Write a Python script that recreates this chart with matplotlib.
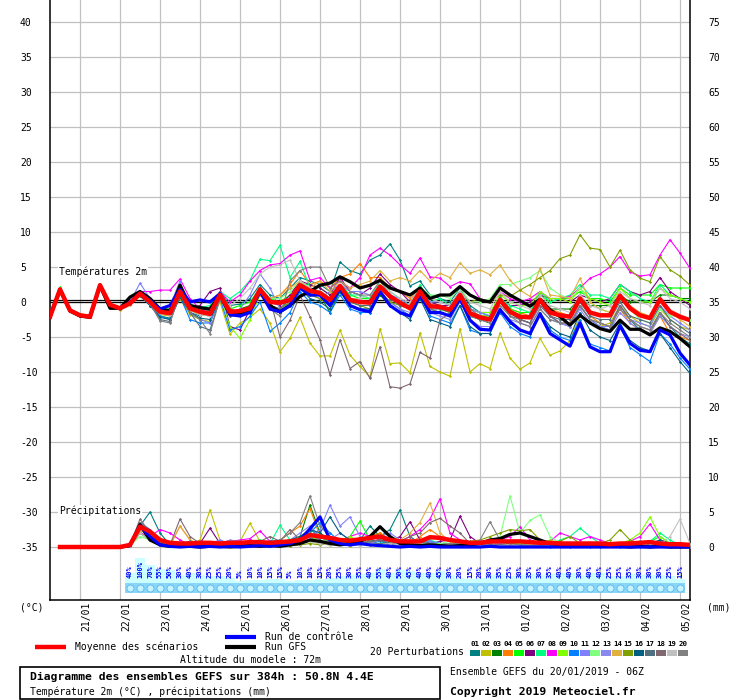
import matplotlib
matplotlib.use("Agg")
import matplotlib.pyplot as plt
import matplotlib.dates as mdates
from matplotlib.lines import Line2D
from matplotlib.patches import Rectangle
from matplotlib.transforms import offset_copy
import pandas as pd

plt.rcParams['font.family'] = ['DejaVu Sans Mono', 'DejaVu Sans']

# ---- data (20/01/2019 06Z) ----
times = pd.date_range("2019-01-20 06:00", periods=65, freq="6h")
day_ticks = pd.date_range("2019-01-21", "2019-02-05", freq="D")
day_labels = [d.strftime("%d/%m") for d in day_ticks]

# temperature 2m (°C), one value per 6h step
t_mean = [-2.1, 1.8, -1.2, -1.9, -2.1, 2.4, -0.4, -0.9, -0.2,
          1.2, 0.0, -1.4, -1.6, 1.5, -0.9, -1.4, -1.7, 1.0, -1.4, -1.3, -0.9,
          1.8, 0.0, -0.1, 0.3, 2.4, 1.6, 1.3, 0.3, 2.3, 0.3, 0.0, -0.1,
          2.2, 0.8, -0.1, -0.9, 1.5, -0.6, -0.7, -1.1, 1.0, -1.6, -2.2, -2.5,
          0.3, -1.4, -2.1, -2.2, 0.3, -1.5, -1.9, -2.1, 0.5, -1.5, -1.9, -1.9,
          0.9, -0.9, -1.9, -2.3, 0.4, -1.4, -2.1, -2.6]
t_control = [-2.1, 1.8, -1.2, -1.9, -2.1, 2.4, -0.4, -0.9, -0.1,
             1.3, 0.2, -1.0, -0.5, 1.8, 0.0, 0.3, 0.0, 1.2, -1.8, -2.0, -1.5,
             1.5, -1.0, -1.4, -0.5, 2.0, 1.0, 1.0, -0.5, 2.0, -0.5, -1.1, -1.4,
             1.5, -0.5, -1.5, -2.0, 1.0, -1.5, -1.5, -2.0, 0.5, -2.6, -3.9, -4.0,
             -1.1, -2.8, -4.0, -4.5, -1.7, -4.5, -5.4, -6.3, -3.0, -6.4, -7.1, -7.1,
             -3.4, -5.9, -6.9, -7.1, -4.0, -4.7, -7.3, -9.0]
t_gfs = [-2.1, 1.8, -1.3, -2.0, -2.2, 2.3, -0.9, -0.9, 0.7,
         1.5, 0.5, -1.0, -1.3, 2.4, -0.5, -0.8, -1.0, 1.0, -1.8, -1.8, -1.0,
         1.5, -0.5, -1.4, -0.5, 0.8, 1.5, 2.4, 2.7, 3.6, 2.9, 2.0, 2.4,
         3.1, 2.0, 1.5, 1.0, 2.0, 0.5, 1.0, 1.0, 2.2, 1.0, 0.3, 0.0,
         2.0, 1.0, 0.2, -0.6, 0.4, -1.1, -2.1, -3.3, -1.9, -3.0, -3.8, -4.2,
         -2.6, -3.9, -3.9, -4.7, -3.7, -4.2, -5.2, -6.4]

t_p01 = [-2.2, 1.9, -1.3, -2.0, -2.2, 2.5, -0.5, -1.0, -0.3,
         1.0, -0.5, -2.0, -2.3, 0.8, -1.5, -2.0, -1.0, 1.5, -0.5, -0.3, 0.5,
         2.5, 1.0, 0.5, 2.0, 3.5, 3.0, 2.5, 1.5, 5.7, 4.5, 4.0, 6.0,
         6.7, 8.3, 6.0, 2.3, 3.0, 1.0, 0.5, 0.0, 2.0, -0.5, -1.5, -2.0,
         0.8, -1.0, -2.5, -3.0, 0.0, -2.0, -3.0, -3.5, -0.5, -2.5, -3.5, -4.0,
         -0.5, -2.5, -4.0, -4.5, -1.5, -3.5, -5.0, -6.0]
t_p02 = [-2.0, 1.7, -1.3, -2.0, -2.2, 2.3, -0.5, -1.1, -0.4,
         0.8, -0.4, -1.8, -2.0, 0.5, -1.8, -2.5, -2.8, 0.0, -4.6, -3.0, -2.2,
         -1.0, -3.0, -7.1, -5.2, -2.2, -5.9, -7.7, -7.7, -4.0, -7.6, -9.2, -10.7,
         -3.8, -8.8, -8.7, -10.1, -4.4, -9.2, -10.0, -10.6, -3.8, -10.0, -8.8, -9.5,
         -4.4, -8.0, -9.6, -8.7, -5.2, -7.6, -7.0, -5.5, -2.0, -3.0, -3.5, -3.0,
         -0.5, -2.0, -3.0, -3.5, -1.0, -2.5, -3.5, -4.0]
t_p03 = [-2.1, 1.9, -1.1, -1.8, -2.0, 2.5, -0.3, -0.8, -0.1,
         1.3, 0.2, -1.2, -1.4, 1.7, -0.8, -1.2, -1.5, 1.2, -1.6, -1.0, -0.5,
         2.0, -1.0, -1.5, 0.0, 3.0, 1.5, 1.0, -1.5, 1.5, -0.5, -1.0, -1.5,
         1.0, -0.5, -1.5, -2.0, 0.5, -1.0, -1.5, -2.0, 0.5, -2.0, -2.5, -3.0,
         0.0, -1.5, -2.5, -2.0, 0.0, -1.0, -1.0, -1.0, 0.5, -0.5, -0.5, -0.5,
         1.0, 0.0, 0.0, 0.0, 1.0, 1.0, 0.5, 0.5]
t_p04 = [-2.0, 1.8, -1.2, -1.9, -2.1, 2.4, -0.4, -0.9, -0.2,
         1.2, 0.1, -1.3, -1.5, 1.6, -0.7, -1.2, -1.3, 1.2, -0.8, -1.8, -1.5,
         1.5, 0.5, 1.0, 2.5, 4.5, 2.5, 3.0, 2.0, 3.5, 4.0, 5.5, 3.5,
         3.5, 2.0, 1.5, 0.5, 2.0, 0.0, -0.5, -1.0, 1.0, -1.5, -2.0, -2.0,
         0.0, -1.0, -1.5, -2.0, 0.5, -1.0, -1.5, -2.0, 0.5, -2.0, -3.0, -3.5,
         -1.0, -3.0, -4.0, -4.5, -2.0, -4.5, -5.0, -5.5]
t_p05 = [-1.9, 2.1, -1.0, -1.7, -1.9, 2.6, -0.2, -0.8, 0.1,
         1.5, 0.5, -0.8, -1.0, 2.0, -0.5, -1.0, -1.2, 1.2, -1.0, -0.5, 0.0,
         2.0, 0.5, 0.0, 1.0, 2.5, 2.5, 2.0, 1.0, 2.5, 1.0, 0.5, 0.5,
         2.5, 1.0, 0.0, -0.5, 2.0, -0.5, -1.0, -1.5, 1.0, -1.5, -2.0, -2.0,
         0.5, -1.0, -1.5, -1.5, 1.0, 0.0, 0.5, 0.5, 1.5, 0.5, 0.5, 0.0,
         2.0, 1.0, 1.0, 1.0, 2.5, 2.0, 2.0, 2.0]
t_p06 = [-2.2, 1.8, -1.2, -1.9, -2.2, 2.3, -0.5, -1.0, -0.2,
         1.2, 0.0, -1.3, -1.0, 2.0, -1.0, -0.5, 1.5, 2.0, -3.5, -4.0, -1.0,
         1.5, 0.0, -0.5, 1.0, 3.0, 2.5, 2.0, 1.0, 3.5, 1.5, 1.0, 2.0,
         4.0, 2.5, 1.5, 0.0, 2.0, 0.0, -0.5, -0.5, 1.5, -1.0, -1.5, -1.5,
         0.5, -0.5, -0.5, 0.0, 1.0, 0.5, 0.5, 0.0, 1.0, 0.5, 0.0, 0.5,
         2.5, 1.5, 1.0, 1.5, 3.5, 1.5, 0.5, -0.5]
t_p07 = [-2.0, 1.9, -1.1, -1.8, -2.0, 2.5, -0.4, -0.9, -0.1,
         1.4, 0.3, -1.0, -1.2, 1.8, -0.3, -0.8, -0.5, 1.5, 0.5, 1.5, 3.1,
         6.1, 5.9, 8.1, 3.5, 5.8, 2.0, 1.5, 0.5, 2.5, 1.0, 1.0, 0.5,
         3.0, 1.5, 0.5, -0.5, 2.5, 0.0, 0.5, -0.5, 1.5, -1.0, -1.5, -2.0,
         0.5, -0.5, -1.0, -1.5, 1.5, 0.0, 0.5, 1.0, 2.5, 1.0, 1.0, 0.5,
         2.5, 1.5, 0.5, 0.0, 2.5, 1.0, 0.5, 0.0]
t_p08 = [-2.1, 1.8, -1.2, -1.9, -2.1, 2.4, -0.3, -0.8, 0.2,
         1.5, 1.5, 1.7, 1.7, 3.3, 0.5, -1.0, -1.5, 1.5, 0.0, 1.0, 3.0,
         4.5, 5.3, 5.5, 6.7, 7.3, 3.1, 3.5, 2.0, 3.0, 2.0, 3.5, 6.7,
         7.7, 6.7, 5.3, 4.1, 6.3, 3.6, 3.4, 2.2, 2.9, 2.6, 0.5, 0.0,
         1.5, 0.5, 0.0, 0.5, 1.5, 0.5, 0.5, 0.8, 2.0, 3.4, 4.0, 5.0,
         6.5, 4.3, 3.7, 3.9, 6.7, 8.9, 7.0, 4.8]
t_p09 = [-2.0, 2.0, -1.1, -1.8, -2.0, 2.5, -0.3, -0.9, 0.0,
         1.4, 0.3, -1.2, -1.3, 1.8, -0.8, -1.5, -2.0, 1.0, -3.5, -5.2, -2.5,
         1.0, -0.5, -1.0, 0.5, 2.5, 1.0, 1.0, 0.0, 2.5, 0.5, 0.0, 0.0,
         2.5, 0.5, -0.5, -1.0, 1.5, -0.5, -1.0, -1.5, 1.5, -1.0, -1.5, -1.5,
         1.0, 0.0, -0.5, -0.5, 1.5, 0.5, 0.5, 0.0, 2.0, 0.5, 0.0, -0.5,
         2.0, 0.5, 0.0, 0.0, 2.0, 1.0, 0.5, 0.0]
t_p10 = [-2.1, 1.8, -1.3, -2.0, -2.2, 2.3, -0.5, -1.0, -0.3,
         1.0, -0.5, -2.0, -2.5, 0.8, -2.5, -3.0, -3.0, 0.5, -4.0, -3.5, -2.0,
         0.0, -4.2, -3.0, -1.5, 1.5, 0.0, -0.5, -1.5, 1.0, -1.0, -1.5, -1.5,
         1.5, 0.0, -1.0, -2.0, 1.0, -2.0, -2.5, -3.0, -0.5, -4.0, -4.5, -4.5,
         -1.5, -3.5, -4.5, -5.0, -1.5, -4.0, -5.0, -5.5, -2.5, -6.0, -6.5, -7.0,
         -3.5, -6.5, -7.5, -8.5, -4.5, -6.0, -8.0, -9.6]
t_p11 = [-2.0, 1.8, -1.2, -1.9, -2.1, 2.4, -0.4, -0.9, 0.0,
         2.7, 0.5, -1.0, -0.5, 3.0, -1.5, -2.5, -3.0, 1.0, -2.0, -1.0, 1.0,
         4.0, 2.0, -1.0, 0.0, 2.0, 1.0, 0.5, 1.5, 2.5, 1.5, 1.5, 1.0,
         2.0, 1.0, 0.5, -0.5, 1.5, 0.0, 0.0, -0.5, 1.5, -1.0, -1.5, -2.0,
         0.0, -1.5, -2.5, -3.0, -0.5, -2.0, -3.0, -3.5, -0.5, -2.5, -3.5, -3.5,
         -0.5, -2.5, -3.0, -3.5, -0.5, -2.0, -3.0, -4.0]
t_p12 = [-2.1, 1.8, -1.2, -1.9, -2.1, 2.4, -0.4, -0.9, -0.2,
         1.2, 0.0, -1.4, -1.6, 1.5, -0.9, -1.4, -1.7, 1.0, -1.4, -1.3, -0.9,
         2.0, 0.5, 0.5, 1.5, 3.0, 2.0, 1.5, 0.5, 2.5, 0.5, 0.0, 0.0,
         2.0, 0.5, 0.0, -0.5, 2.0, 1.0, 1.0, 0.5, 2.0, 0.0, 0.0, 0.5,
         2.5, 2.5, 3.0, 3.5, 4.5, 2.0, 1.0, 0.5, 2.0, 0.0, -1.0, -1.5,
         0.5, -1.0, -2.5, -3.0, -1.0, -2.0, -2.0, -2.5]
t_p13 = [-2.2, 1.7, -1.3, -2.0, -2.2, 2.3, -0.5, -1.0, -0.3,
         1.0, -0.3, -1.6, -1.8, 1.2, -1.2, -1.8, -2.0, 0.5, -1.8, -1.5, -1.0,
         1.5, -0.5, -1.0, 0.0, 2.0, 1.0, 1.0, 0.0, 2.0, -0.5, -1.0, -1.0,
         1.5, 0.0, -1.0, -1.5, 1.0, -1.5, -2.0, -2.5, 0.0, -2.5, -3.5, -3.5,
         -1.0, -2.5, -3.0, -3.5, -1.0, -2.5, -3.0, -3.5, -1.0, -3.0, -3.5, -4.0,
         -1.5, -3.0, -4.0, -4.5, -2.0, -3.5, -4.5, -5.0]
t_p14 = [-2.1, 1.7, -1.2, -2.0, -2.2, 2.3, -0.5, -1.0, -0.3,
         1.1, -0.2, -1.5, -1.8, 1.3, -1.2, -1.8, -2.0, 0.8, -2.0, -1.8, -1.2,
         1.0, 0.5, 1.0, 2.0, 3.0, 2.0, 3.0, 1.5, 3.0, 2.0, 2.5, 3.0,
         4.5, 3.0, 3.5, 3.0, 4.5, 3.0, 4.1, 3.5, 5.6, 4.1, 4.6, 3.9,
         5.3, 3.1, 1.7, 0.8, 4.8, 1.0, 0.8, 0.5, 3.4, 0.0, -1.0, -1.5,
         1.0, -0.5, -1.5, -2.0, 0.5, -1.5, -2.5, -3.5]
t_p15 = [-2.2, 1.8, -1.3, -1.9, -2.1, 2.4, -0.4, -1.0, -0.3,
         1.1, -0.1, -1.5, -1.7, 1.4, -1.0, -1.5, -1.8, 0.9, -1.5, -1.5, -1.0,
         1.5, -0.5, -1.0, 0.0, 2.0, 1.0, 0.5, -0.5, 2.0, 0.0, -0.5, -1.0,
         1.5, 0.0, -0.5, -1.0, 1.5, -0.5, -0.5, -1.0, 1.5, 0.0, 0.5, 0.0,
         1.0, 0.8, 1.7, 2.5, 3.5, 4.5, 6.2, 6.7, 9.6, 7.7, 7.5, 5.0,
         7.4, 4.6, 3.4, 2.9, 6.5, 4.6, 3.7, 2.4]
t_p16 = [-2.2, 1.7, -1.3, -2.0, -2.2, 2.3, -0.5, -1.0, -0.3,
         0.9, -0.5, -2.2, -2.5, 0.7, -1.5, -2.3, -2.5, 0.5, -1.8, -2.0, -1.5,
         1.5, -1.0, -1.5, -0.5, 2.0, 0.5, 0.0, -1.0, 1.5, -0.5, -1.0, -1.0,
         1.5, -0.5, -1.5, -2.5, 0.5, -2.5, -3.0, -3.5, -0.5, -3.5, -4.5, -4.5,
         -1.0, -3.0, -4.0, -4.5, -1.5, -3.5, -4.5, -5.0, -1.5, -4.0, -5.0, -5.5,
         -3.0, -5.5, -6.5, -7.0, -4.5, -6.5, -8.5, -10.2]
t_p17 = [-2.1, 1.8, -1.2, -1.9, -2.1, 2.4, -0.4, -0.9, -0.2,
         1.0, -0.3, -2.5, -2.8, 1.0, -1.5, -3.5, -4.0, 0.5, -2.0, -1.8, -1.0,
         1.5, -0.5, -1.0, 0.5, 2.5, 1.0, 1.0, 0.0, 2.0, 0.0, -0.5, -0.5,
         2.0, 0.5, -0.5, -1.0, 1.5, -1.0, -1.0, -1.5, 0.5, -2.0, -2.5, -3.0,
         0.0, -2.0, -2.5, -3.0, 0.0, -2.0, -2.5, -2.5, 0.0, -2.0, -2.5, -2.5,
         0.0, -2.0, -2.5, -3.0, -0.5, -2.5, -3.5, -4.5]
t_p18 = [-2.2, 1.8, -1.1, -1.8, -2.0, 2.4, -0.3, -0.8, -0.1,
         1.3, 0.2, -1.2, -1.5, 1.8, -0.6, -1.0, -1.2, 1.5, -1.0, -1.5, -0.5,
         2.0, 0.5, -5.0, -2.6, 1.0, -2.1, -5.4, -10.4, -5.4, -9.5, -8.5, -10.9,
         -6.4, -12.1, -12.3, -11.7, -7.2, -8.0, -2.6, -1.5, 1.5, -1.0, -2.0, -2.5,
         0.5, -1.5, -2.5, -3.0, -0.5, -2.0, -3.0, -3.0, -0.5, -2.5, -3.0, -3.5,
         -0.5, -2.5, -3.5, -4.0, -1.5, -3.5, -4.5, -5.5]
t_p19 = [-2.1, 1.8, -1.2, -1.9, -2.1, 2.4, -0.4, -0.9, -0.2,
         1.0, -0.3, -1.6, -1.9, 1.2, -1.0, -1.8, -2.0, 0.5, -0.5, 0.5, 2.0,
         4.0, 5.0, 5.3, 6.0, 3.0, 2.0, 1.5, 0.0, 2.0, 0.5, 0.5, 1.0,
         3.0, 1.5, 0.5, 0.0, 2.0, 0.5, 0.0, -0.5, 1.5, 0.0, -0.5, -1.0,
         1.5, 0.0, -0.5, -1.0, 1.0, -0.5, -1.0, -1.5, 1.0, -0.5, -1.0, -0.5,
         1.5, 0.5, 0.0, -0.5, 2.0, 0.5, 0.0, -1.0]
t_p20 = [-2.2, 1.7, -1.3, -2.0, -2.2, 2.3, -0.5, -1.0, -0.3,
         1.1, -0.2, -2.7, -3.0, 1.2, -1.5, -2.5, -4.5, 0.5, -1.5, -1.5, -1.0,
         2.0, -1.0, -2.0, 3.0, 4.5, 5.0, 5.0, 2.0, 3.0, 1.5, 1.0, 1.0,
         3.0, 1.0, 0.0, -1.0, 1.5, -1.0, -1.5, -2.0, 0.5, -2.0, -2.5, -3.0,
         -0.5, -2.0, -3.0, -3.5, -1.0, -2.5, -3.0, -3.0, -0.5, -2.5, -3.0, -3.5,
         -1.0, -2.5, -3.5, -4.0, -1.5, -3.0, -4.0, -5.0]

# precipitation (mm per 6h), from the second step on
p_mean = [0, 0, 0, 0, 0, 0, 0, 0.3, 2.9, 2.2, 1.0, 0.6, 0.5, 0.5, 0.6, 0.6,
          0.5, 0.6, 0.6, 0.7, 0.7, 0.6, 0.7, 0.8, 1.0, 1.7, 1.5, 1.3, 1.0, 0.9, 1.1, 1.3,
          1.5, 1.0, 0.8, 0.8, 0.8, 1.4, 1.3, 1.0, 0.8, 0.6, 0.6, 0.8, 0.8, 0.8, 0.8, 0.7,
          0.6, 0.6, 0.5, 0.5, 0.5, 0.5, 0.5, 0.4, 0.5, 0.5, 0.6, 0.7, 0.5, 0.4, 0.4, 0.3]
p_control = [0, 0, 0, 0, 0, 0, 0, 0.2, 3.0, 1.5, 0.3, 0.1, 0.0, 0.1, 0.0, 0.1,
             0.0, 0.1, 0.0, 0.1, 0.2, 0.1, 0.3, 0.5, 1.0, 2.6, 4.3, 1.0, 0.5, 0.3, 0.5, 0.3,
             0.2, 0.1, 0.0, 0.1, 0.0, 0.1, 0.0, 0.0, 0.0, 0.0, 0.0, 0.1, 0.0, 0.0, 0.0, 0.0,
             0, 0, 0, 0, 0, 0, 0, 0, 0, 0, 0, 0, 0, 0, 0, 0]
p_gfs = [0, 0, 0, 0, 0, 0, 0, 0.2, 3.2, 1.0, 0.3, 0.1, 0.2, 0.1, 0.0, 0.1,
         0.1, 0.0, 0.1, 0.2, 0.1, 0.2, 0.1, 0.3, 0.5, 1.0, 0.8, 0.5, 0.3, 0.5, 0.8, 1.5,
         2.9, 1.5, 0.5, 0.3, 0.2, 0.3, 0.2, 0.1, 0.2, 0.3, 0.5, 1.0, 1.2, 1.8, 2.0, 1.5,
         1.0, 0.5, 0.3, 0.2, 0.1, 0.2, 0.1, 0.1, 0.1, 0.0, 0.1, 0.0, 0.1, 0.0, 0.0, 0.0]

p_p01 = [0, 0, 0, 0, 0, 0, 0, 0.3, 3.0, 5.0, 2.0, 0.3, 0.2, 0.1, 0.5, 0.2,
         0.1, 0.3, 0.2, 0.5, 0.3, 0.6, 0.8, 0.5, 1.0, 2.5, 1.5, 0.8, 0.5, 1.0, 1.0, 3.0,
         1.5, 2.5, 5.3, 1.5, 0.5, 0.5, 0.3, 0.2, 0.2, 0.3, 0.1, 0.2, 0.3, 0.5, 0.3, 0.2,
         0.5, 0.3, 0.5, 0.3, 0.2, 0.3, 0.2, 0.2, 0.3, 0.5, 0.8, 0.5, 1.0, 0.5, 0.2, 0.1]
p_p02 = [0, 0, 0, 0, 0, 0, 0, 0.2, 2.5, 1.5, 0.5, 0.2, 0.5, 0.3, 1.0, 5.3,
         1.0, 0.3, 0.8, 3.4, 0.8, 0.3, 0.2, 0.5, 0.5, 1.0, 0.5, 0.3, 0.5, 0.2, 0.3, 0.5,
         0.5, 0.3, 0.2, 0.3, 0.2, 0.5, 0.3, 0.2, 0.1, 0.2, 0.1, 0.3, 0.2, 0.2, 0.1, 0.2,
         0.3, 0.2, 0.1, 0.2, 0.1, 0.1, 0.2, 0.1, 0.2, 0.3, 0.2, 0.1, 0.2, 0.1, 0.1, 0.0]
p_p03 = [0, 0, 0, 0, 0, 0, 0, 0.4, 3.5, 2.0, 0.5, 0.2, 0.3, 0.5, 0.3, 0.5,
         0.3, 0.5, 0.3, 0.2, 0.8, 0.5, 0.3, 1.0, 1.5, 6.0, 2.0, 1.0, 0.5, 0.3, 0.8, 1.5,
         2.0, 1.0, 0.5, 0.3, 0.5, 0.8, 0.3, 0.2, 0.5, 0.3, 0.2, 0.2, 0.3, 0.5, 0.3, 0.2,
         0.2, 0.1, 0.2, 0.1, 0.3, 0.2, 0.1, 0.2, 0.1, 0.3, 0.2, 0.1, 0.5, 0.2, 0.1, 0.1]
p_p04 = [0, 0, 0, 0, 0, 0, 0, 0.2, 2.0, 1.5, 0.5, 0.2, 3.0, 1.0, 0.3, 0.2,
         0.5, 0.3, 0.2, 0.3, 0.5, 0.3, 1.0, 2.0, 3.0, 5.5, 1.5, 0.5, 0.5, 1.0, 0.8, 1.5,
         2.0, 1.0, 0.8, 0.5, 1.5, 2.5, 1.5, 0.8, 0.5, 0.3, 0.2, 0.3, 0.5, 0.3, 0.2, 0.3,
         0.2, 0.1, 0.3, 0.2, 0.1, 0.2, 0.3, 0.2, 0.5, 0.8, 0.3, 0.2, 0.3, 0.1, 0.1, 0.1]
p_p05 = [0, 0, 0, 0, 0, 0, 0, 0.3, 2.5, 1.5, 0.3, 0.2, 0.1, 0.2, 0.3, 0.2,
         0.3, 0.5, 0.2, 0.3, 0.5, 0.8, 0.5, 0.3, 0.5, 1.0, 0.8, 0.5, 0.8, 1.5, 3.7, 1.0,
         0.8, 0.5, 0.3, 0.2, 0.5, 0.8, 0.5, 0.3, 0.3, 0.2, 0.2, 0.3, 0.2, 0.3, 0.5, 0.3,
         0.8, 0.5, 0.3, 0.5, 0.3, 0.2, 0.3, 0.2, 0.3, 0.2, 0.5, 0.8, 1.5, 0.5, 0.2, 0.1]
p_p06 = [0, 0, 0, 0, 0, 0, 0, 0.2, 3.0, 1.5, 0.5, 0.3, 0.5, 0.3, 0.5, 2.7,
         0.5, 0.2, 0.3, 0.5, 0.3, 0.2, 0.5, 0.8, 1.0, 1.5, 0.5, 0.8, 0.5, 0.3, 0.5, 0.8,
         1.0, 0.8, 1.5, 3.6, 1.0, 0.5, 0.8, 1.0, 4.4, 1.5, 0.5, 0.3, 0.2, 0.3, 0.2, 0.3,
         0.2, 0.1, 0.2, 0.1, 0.2, 0.3, 0.2, 0.1, 0.2, 0.3, 0.2, 0.1, 0.2, 0.1, 0.1, 0.0]
p_p07 = [0, 0, 0, 0, 0, 0, 0, 0.2, 2.0, 1.0, 0.3, 0.2, 0.5, 0.3, 0.2, 0.5,
         0.3, 0.2, 0.5, 0.8, 1.0, 0.5, 3.1, 1.0, 0.5, 1.0, 1.5, 0.5, 0.8, 0.5, 1.0, 0.5,
         0.5, 0.8, 0.5, 0.3, 0.8, 1.0, 0.5, 0.3, 0.2, 0.3, 0.2, 0.1, 0.3, 0.2, 0.5, 0.8,
         0.5, 0.3, 1.0, 1.5, 2.7, 1.5, 0.5, 0.3, 0.3, 0.5, 0.3, 0.8, 2.0, 1.0, 0.3, 0.1]
p_p08 = [0, 0, 0, 0, 0, 0, 0, 0.2, 2.0, 1.5, 2.5, 2.0, 1.0, 0.3, 0.2, 0.3,
         0.5, 0.8, 1.0, 1.2, 2.3, 0.8, 0.5, 0.3, 0.5, 1.0, 1.5, 1.0, 0.8, 1.5, 2.0, 1.5,
         1.0, 1.0, 0.8, 1.5, 2.5, 4.0, 6.9, 2.0, 1.0, 0.5, 0.3, 0.5, 1.0, 1.5, 2.9, 1.0,
         0.5, 0.8, 2.0, 1.5, 1.0, 1.5, 1.0, 0.5, 0.5, 0.8, 1.5, 3.3, 1.0, 0.5, 0.3, 0.2]
p_p09 = [0, 0, 0, 0, 0, 0, 0, 0.3, 2.5, 1.5, 0.5, 0.3, 0.2, 0.2, 0.3, 0.2,
         0.2, 0.3, 0.5, 0.3, 0.2, 0.5, 1.0, 0.8, 1.0, 1.5, 0.8, 0.5, 1.0, 1.5, 0.8, 0.5,
         0.5, 0.3, 0.2, 0.3, 0.5, 0.3, 0.2, 0.3, 0.5, 0.3, 0.2, 0.3, 0.5, 0.8, 0.5, 0.3,
         0.5, 1.0, 0.5, 0.3, 0.5, 0.3, 0.2, 0.3, 0.5, 1.0, 2.0, 4.3, 1.5, 0.5, 0.2, 0.1]
p_p10 = [0, 0, 0, 0, 0, 0, 0, 0.3, 3.5, 2.5, 0.5, 0.2, 0.1, 0.1, 0.2, 0.1,
         0.2, 0.3, 0.5, 0.3, 0.5, 0.8, 1.0, 0.8, 1.0, 2.0, 3.5, 2.0, 0.8, 0.5, 0.3, 0.5,
         0.8, 0.5, 0.3, 0.2, 0.5, 0.8, 0.5, 0.3, 0.2, 0.1, 0.1, 0.2, 0.1, 0.2, 0.1, 0.1,
         0.1, 0.0, 0.1, 0.0, 0.1, 0.0, 0.0, 0.1, 0.0, 0.1, 0.0, 0.0, 0.1, 0.0, 0.0, 0.0]
p_p11 = [0, 0, 0, 0, 0, 0, 0, 0.2, 2.0, 1.0, 0.5, 0.3, 0.5, 0.8, 0.3, 0.5,
         1.0, 0.5, 0.3, 0.5, 0.8, 0.5, 0.3, 0.5, 0.8, 1.5, 2.5, 6.0, 3.0, 4.3, 1.5, 1.0,
         1.5, 2.0, 1.0, 0.5, 1.0, 0.8, 0.5, 0.3, 0.5, 0.3, 0.2, 0.3, 0.5, 0.3, 0.2, 0.3,
         0.5, 0.3, 0.2, 0.3, 0.2, 0.1, 0.2, 0.1, 0.2, 0.1, 0.2, 0.3, 0.2, 0.1, 0.1, 0.0]
p_p12 = [0, 0, 0, 0, 0, 0, 0, 0.2, 1.5, 1.0, 0.3, 0.2, 0.1, 0.2, 0.1, 0.2,
         0.2, 0.3, 0.2, 0.5, 0.3, 0.2, 0.5, 0.3, 0.5, 0.8, 0.5, 0.3, 0.5, 0.3, 0.5, 0.3,
         0.5, 0.3, 0.2, 0.3, 0.5, 0.3, 0.5, 0.8, 0.5, 0.3, 0.5, 0.8, 1.5, 7.3, 2.0, 3.8,
         4.6, 1.5, 0.5, 0.3, 0.5, 0.3, 0.2, 0.3, 0.2, 0.3, 0.5, 0.3, 0.2, 0.1, 0.1, 0.1]
p_p13 = [0, 0, 0, 0, 0, 0, 0, 0.2, 2.5, 1.5, 0.5, 0.2, 0.5, 0.3, 0.8, 0.5,
         0.5, 1.0, 0.8, 0.5, 0.3, 0.5, 0.8, 1.0, 2.0, 3.0, 1.5, 1.0, 2.0, 1.0, 0.8, 0.5,
         1.0, 0.5, 0.3, 0.5, 1.0, 0.5, 0.3, 0.2, 0.2, 0.3, 0.2, 0.1, 0.2, 0.3, 0.2, 0.1,
         0.2, 0.1, 0.1, 0.2, 0.1, 0.1, 0.2, 0.1, 0.1, 0.2, 0.1, 0.1, 0.2, 0.1, 0.0, 0.0]
p_p14 = [0, 0, 0, 0, 0, 0, 0, 0.2, 2.5, 1.5, 0.5, 0.3, 3.0, 1.0, 0.3, 0.5,
         0.3, 0.5, 0.3, 0.2, 0.5, 0.3, 0.2, 0.5, 0.5, 0.8, 0.5, 0.3, 0.5, 0.8, 1.0, 0.8,
         1.0, 1.5, 1.0, 2.0, 3.5, 6.3, 2.0, 0.8, 0.5, 0.3, 0.5, 0.3, 0.2, 0.3, 0.2, 0.3,
         0.2, 0.3, 0.2, 0.1, 0.2, 0.1, 0.2, 0.1, 0.2, 0.3, 0.2, 0.1, 0.2, 0.1, 0.1, 0.0]
p_p15 = [0, 0, 0, 0, 0, 0, 0, 0.2, 2.0, 1.0, 0.3, 0.2, 0.1, 0.2, 0.1, 0.2,
         0.2, 0.3, 0.2, 0.1, 0.3, 0.2, 0.3, 0.2, 0.3, 0.5, 0.3, 0.5, 0.8, 0.5, 0.3, 0.5,
         0.5, 0.3, 0.5, 0.3, 0.2, 0.5, 0.3, 0.5, 0.5, 0.8, 1.0, 1.5, 2.0, 2.5, 2.3, 2.5,
         1.0, 0.5, 0.8, 1.5, 0.5, 0.3, 0.5, 1.0, 2.5, 1.0, 0.5, 0.8, 0.5, 0.3, 0.2, 0.1]
p_p16 = [0, 0, 0, 0, 0, 0, 0, 0.3, 3.0, 2.0, 0.8, 0.3, 0.2, 0.3, 0.5, 0.3,
         0.2, 0.3, 0.5, 0.3, 0.5, 0.3, 0.8, 1.0, 1.5, 2.5, 2.0, 4.3, 2.0, 1.0, 0.5, 0.8,
         1.0, 0.5, 0.3, 0.5, 0.8, 0.5, 0.3, 0.2, 0.3, 0.2, 0.1, 0.2, 0.3, 0.2, 0.1, 0.2,
         0.1, 0.2, 0.3, 0.2, 0.1, 0.2, 0.3, 0.2, 0.3, 0.2, 0.5, 0.3, 1.0, 0.5, 0.2, 0.1]
p_p17 = [0, 0, 0, 0, 0, 0, 0, 0.3, 3.5, 2.0, 0.5, 0.3, 0.5, 0.8, 0.3, 0.2,
         0.3, 0.5, 0.3, 0.2, 0.3, 0.5, 0.3, 0.5, 1.0, 2.0, 1.0, 0.5, 0.8, 1.0, 0.5, 0.3,
         0.5, 0.3, 0.5, 0.3, 0.5, 0.3, 0.2, 0.3, 0.2, 0.1, 0.2, 0.3, 0.2, 0.1, 0.2, 0.1,
         0.2, 0.1, 0.2, 0.1, 0.2, 0.1, 0.1, 0.2, 0.1, 0.2, 0.1, 0.2, 0.1, 0.1, 0.0, 0.0]
p_p18 = [0, 0, 0, 0, 0, 0, 0, 0.3, 4.0, 2.0, 0.5, 0.3, 4.0, 1.5, 0.5, 0.3,
         0.5, 0.3, 0.2, 0.5, 0.8, 1.5, 0.8, 2.5, 1.0, 2.0, 1.5, 0.8, 0.5, 0.3, 0.5, 0.8,
         1.0, 0.5, 0.8, 1.5, 2.0, 3.5, 4.1, 3.0, 2.0, 0.5, 0.3, 0.5, 0.3, 0.2, 0.3, 0.2,
         0.2, 0.3, 0.2, 0.1, 0.2, 0.1, 0.2, 0.1, 0.1, 0.2, 0.1, 0.2, 0.1, 0.1, 0.0, 0.0]
p_p19 = [0, 0, 0, 0, 0, 0, 0, 0.2, 2.0, 1.0, 0.3, 0.2, 0.3, 0.2, 0.1, 0.2,
         0.3, 0.2, 0.1, 0.3, 0.2, 0.5, 0.3, 0.5, 0.5, 0.8, 0.5, 0.3, 0.5, 0.3, 0.2, 0.5,
         0.3, 0.5, 0.3, 0.2, 0.5, 0.3, 0.2, 0.3, 0.2, 0.3, 0.2, 0.1, 0.2, 0.3, 0.2, 0.1,
         0.2, 0.3, 0.5, 0.3, 0.2, 0.1, 0.2, 0.1, 0.2, 0.1, 0.2, 0.5, 0.3, 1.5, 4.0, 0.5]
p_p20 = [0, 0, 0, 0, 0, 0, 0, 0.3, 3.5, 2.0, 0.8, 0.3, 0.5, 0.3, 0.2, 0.3,
         0.5, 0.3, 0.5, 0.8, 0.3, 0.5, 1.0, 2.0, 3.5, 7.3, 3.0, 1.5, 1.0, 0.8, 0.5, 1.0,
         1.5, 1.0, 0.5, 0.5, 0.8, 0.5, 0.3, 0.5, 0.5, 0.3, 1.0, 3.6, 1.0, 0.5, 0.3, 0.2,
         0.2, 0.3, 0.2, 0.1, 0.2, 0.1, 0.2, 0.1, 0.1, 0.2, 0.1, 0.2, 0.1, 0.1, 0.0, 0.0]

# probability of precipitation (%), 22/01 06Z -> 05/02 00Z
rain_pct = [40, 100, 70, 55, 50, 30, 40, 30, 25, 25, 20, 5, 10, 10, 15, 15, 5, 10,
            10, 15, 20, 25, 30, 35, 40, 55, 40, 50, 45, 40, 40, 45, 30, 20, 15, 20,
            30, 35, 25, 30, 35, 30, 35, 40, 40, 30, 40, 40, 25, 25, 35, 30, 30, 30,
            25, 15]

member_colors = ['#008080', '#c0c000', '#008000', '#ff8000', '#00ff00',
                 '#800080', '#00ff80', '#ff00ff', '#80ff00', '#0080ff',
                 '#8080ff', '#80ff80', '#8888f0', '#e0b040', '#80a000',
                 '#006080', '#507080', '#806870', '#c0c0c0', '#808080']

t_members = [t_p01, t_p02, t_p03, t_p04, t_p05, t_p06, t_p07, t_p08, t_p09, t_p10,
             t_p11, t_p12, t_p13, t_p14, t_p15, t_p16, t_p17, t_p18, t_p19, t_p20]
p_members = [p_p01, p_p02, p_p03, p_p04, p_p05, p_p06, p_p07, p_p08, p_p09, p_p10,
             p_p11, p_p12, p_p13, p_p14, p_p15, p_p16, p_p17, p_p18, p_p19, p_p20]

# ---- layout, everything in pixels of the 740x700 picture ----
W, H = 740, 700
T_LO, T_HI = -298 / 7, 302 / 7   # axis runs from pixel row 600 up to row 0
P_SHIFT = 35                     # precip 0 mm sits on the -35 line


def fx(x):
    return x / W


def fy(y):
    return 1 - y / H


fig = plt.figure(figsize=(W / 100, H / 100), dpi=100)
ax = fig.add_axes([fx(50), fy(600), 640 / W, 600 / H])
ax.set_xlim(times[0], times[-1])
ax.set_ylim(T_LO, T_HI)
ax.set_axisbelow(True)

yt = list(range(-35, 41, 5))
ax.set_yticks(yt, [str(v) for v in yt], ha='left')
ax.set_xticks(day_ticks)
ax.set_xticklabels([])
ax.tick_params(axis='y', length=0, pad=21.6, labelsize=7)
ax.tick_params(axis='x', length=0)
ax.grid(True, color='#c0c0c0', lw=0.9)
for s in ['left', 'right', 'bottom']:
    ax.spines[s].set_linewidth(1.1)
ax.spines['top'].set_visible(False)

ax2 = ax.twinx()
ax2.set_ylim(T_LO + P_SHIFT, T_HI + P_SHIFT)
pt = list(range(0, 76, 5))
ax2.set_yticks(pt, [str(v) for v in pt])
ax2.tick_params(axis='y', length=0, pad=13, labelsize=7)
for s in ax2.spines.values():
    s.set_visible(False)

# double zero line
ax.axhline(0, color='black', lw=0.9, zorder=2)
ax.axhline(0.29, color='black', lw=0.9, zorder=2)

# temperature
for vals, c in zip(t_members, member_colors):
    ax.plot(times, vals, color=c, lw=0.8, marker='D', ms=1.6, mew=0, zorder=3)
ax.plot(times, t_gfs, color='black', lw=2.3, zorder=4)
ax.plot(times, t_control, color='#0000ff', lw=2.3, zorder=5)
ax.plot(times, t_mean, color='#ff0000', lw=3.2, zorder=6)

# precipitation
ptimes = times[1:]
for vals, c in zip(p_members, member_colors):
    ax2.plot(ptimes, vals, color=c, lw=0.8, marker='D', ms=1.6, mew=0, zorder=3)
ax2.plot(ptimes, p_gfs, color='black', lw=2.3, zorder=4)
ax2.plot(ptimes, p_control, color='#0000ff', lw=2.3, zorder=5)
ax2.plot(ptimes, p_mean, color='#ff0000', lw=3.2, zorder=6)

# rain probability strip
ptime_pct = times[8:64]
ax.bar(ptime_pct, [p * 0.0357 for p in rain_pct], bottom=-40.1, width=0.25,
       color='#ccffff', zorder=1)
x0 = mdates.date2num(ptime_pct[0]) - 0.125
x1 = mdates.date2num(ptime_pct[-1]) + 0.125
ax.add_patch(Rectangle((x0, -41.6), x1 - x0, 1.5, color='#8ad6f6', lw=0, zorder=2))
ax.scatter(ptime_pct, [-40.85] * len(ptime_pct), s=26, marker='o', c='#c4f4ff',
           edgecolors='#5ab4ee', linewidths=0.6, zorder=3)
for t, p in zip(ptime_pct, rain_pct):
    ax.text(t, -39.43, f"{p}%", rotation=90, ha='center', va='bottom',
            fontsize=5.0, color='#0000ff', fontweight='bold', zorder=4)

# date labels under the axis
tr = offset_copy(ax.transData, fig=fig, x=6, y=-2, units='dots')
for d, lab in zip(day_ticks, day_labels):
    ax.text(d, T_LO, lab, rotation=90, ha='center', va='top', fontsize=7, transform=tr)

# texts inside the plot
box = dict(fc='white', ec='none', pad=0.6)
fig.text(fx(59), fy(272), "Températures 2m", fontsize=7, va='center', bbox=box)
fig.text(fx(59), fy(511), "Précipitations", fontsize=7, va='center', bbox=box)
fig.text(fx(20), fy(607), "(°C)", fontsize=7, va='center')
fig.text(fx(707), fy(607), "(mm)", fontsize=7, va='center')

# legend
def hline(xa, xb, y, color, lw):
    fig.add_artist(Line2D([fx(xa), fx(xb)], [fy(y), fy(y)], color=color, lw=lw,
                          solid_capstyle='butt', transform=fig.transFigure))


hline(35, 66, 647, '#ff0000', 3.2)
fig.text(fx(75), fy(647), "Moyenne des scénarios", fontsize=7, va='center')
hline(225, 256, 637, '#0000ff', 3.0)
fig.text(fx(265), fy(637), "Run de contrôle", fontsize=7, va='center')
hline(225, 256, 647, 'black', 3.0)
fig.text(fx(265), fy(647), "Run GFS", fontsize=7, va='center')
fig.text(fx(180), fy(660), "Altitude du modele : 72m", fontsize=7, va='center')

fig.text(fx(370), fy(652), "20 Perturbations", fontsize=7, va='center')
for i, c in enumerate(member_colors):
    bx = 470 + i * 10.95
    fig.add_artist(Rectangle((fx(bx), fy(656)), 10 / W, 6 / H, color=c, lw=0,
                             transform=fig.transFigure))
    fig.text(fx(bx + 5), fy(644), f"{i + 1:02d}", fontsize=5.3, fontweight='bold',
             ha='center', va='center')

fig.add_artist(Rectangle((fx(20), fy(699)), 420 / W, 32 / H, fill=False, ec='black',
                         lw=1.2, transform=fig.transFigure))
fig.text(fx(30), fy(677), "Diagramme des ensembles GEFS sur 384h : 50.8N 4.4E",
         fontsize=8.2, fontweight='bold', va='center')
fig.text(fx(30), fy(692), "Température 2m (°C) , précipitations (mm)", fontsize=7,
         va='center')
fig.text(fx(450), fy(672), "Ensemble GEFS du 20/01/2019 - 06Z", fontsize=7, va='center')
fig.text(fx(450), fy(692), "Copyright 2019 Meteociel.fr", fontsize=8.2,
         fontweight='bold', va='center')

fig.savefig("out.png", dpi=100)
